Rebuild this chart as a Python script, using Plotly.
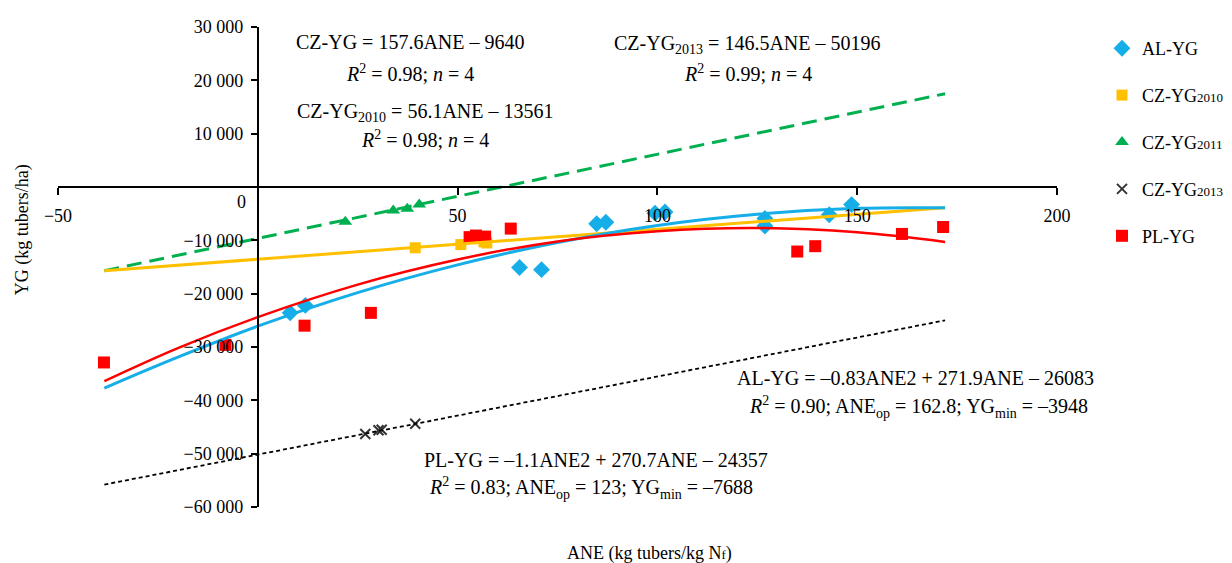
import plotly.graph_objects as go

# ---------------- data ----------------
al_x = [8.1, 11.9, 65.5, 71.0, 84.8, 87.1, 99.4, 101.9, 126.9, 126.9, 143.0, 148.6]
al_y = [-23600, -22200, -15100, -15500, -6900, -6600, -4900, -4700, -5900, -7300, -5200, -3300]

cz2010_x = [39.4, 50.8, 56.6, 57.3]
cz2010_y = [-11400, -10800, -10300, -10500]

cz2011_x = [21.9, 33.9, 37.4, 40.4]
cz2011_y = [-6500, -4400, -4100, -3300]

cz2013_x = [26.9, 30.2, 31.0, 39.4]
cz2013_y = [-46300, -45600, -45500, -44400]

pl_x = [-38.5, -8.1, 11.7, 28.3, 53.0, 54.6, 56.9, 63.3, 135.0, 139.5, 161.2, 171.5]
pl_y = [-32900, -29600, -26000, -23600, -9400, -9100, -9300, -7800, -12100, -11100, -8800, -7500]

# trend lines
lin_x = [-38.4, 172.0]
cz_trend_y = [-15700, 17500]
cz2010_trend_y = [-15700, -3900]
cz2013_trend_y = [-55800, -25000]

curve_x = [-38.4, -20, 0, 25, 50, 75, 100, 125, 150, 172]
al_curve_y = [-37700, -31900, -26100, -19800, -14600, -10400, -7200, -5100, -4000, -3900]
pl_curve_y = [-36400, -30200, -24400, -18300, -13600, -10200, -8300, -7700, -8500, -10300]

x_ticks = [-50, 0, 50, 100, 150, 200]
x_tick_text = ["\u221250", "", "50", "100", "150", "200"]
y_ticks = [-60000, -50000, -40000, -30000, -20000, -10000, 0, 10000, 20000, 30000]
y_tick_text = ["\u221260 000", "\u221250 000", "\u221240 000", "\u221230 000", "\u221220 000",
               "\u221210 000", "", "10 000", "20 000", "30 000"]

# ---------------- styles ----------------
FONT = "Liberation Serif"
C_BLUE = "#16AEE8"
C_YEL = "#FFC000"
C_GRN = "#00B050"
C_BLK = "#333333"
C_RED = "#FF0000"

OFF = 8  # page body margin of the html page
W, H = 1232 - OFF, 563 - OFF
PLOT_L, PLOT_R, PLOT_T, PLOT_B = 57.5, 1057.5, 27.3, 507.3  # target plot box (page pixels)
L = PLOT_L - OFF
R = W - (PLOT_R - OFF)
T = PLOT_T - OFF
B = H - (PLOT_B - OFF)
PW, PH = W - L - R, H - T - B


def P(px, py):
    """page pixel -> paper fraction"""
    return (px - OFF - L) / PW, (H - B - (py - OFF)) / PH


def C(px, py):
    """page pixel -> container fraction"""
    return (px - OFF) / W, 1 - (py - OFF) / H


fig = go.Figure()

sub = "<span style='font-size:13px'>{}</span>"
fig.add_trace(go.Scatter(x=al_x, y=al_y, mode="markers", name="AL-YG", legendgroup="a",
                         marker=dict(symbol="diamond", size=13, color=C_BLUE)))
fig.add_trace(go.Scatter(x=cz2010_x, y=cz2010_y, mode="markers", name="CZ-YG" + sub.format("2010"),
                         legendgroup="b", marker=dict(symbol="square", size=11, color=C_YEL)))
fig.add_trace(go.Scatter(x=cz2011_x, y=cz2011_y, mode="markers", name="CZ-YG" + sub.format("2011"),
                         legendgroup="c", marker=dict(symbol="triangle-up", size=12, color=C_GRN)))
fig.add_trace(go.Scatter(x=cz2013_x, y=cz2013_y, mode="markers", name="CZ-YG" + sub.format("2013"),
                         legendgroup="d",
                         marker=dict(symbol="x-thin", size=10, color=C_BLK, line=dict(width=2, color=C_BLK))))
fig.add_trace(go.Scatter(x=pl_x, y=pl_y, mode="markers", name="PL-YG", legendgroup="e",
                         marker=dict(symbol="square", size=12, color=C_RED)))

# trend lines on top
fig.add_trace(go.Scatter(x=lin_x, y=cz_trend_y, mode="lines", showlegend=False, hoverinfo="skip",
                         line=dict(color=C_GRN, width=3, dash="15px,8px")))
fig.add_trace(go.Scatter(x=lin_x, y=cz2010_trend_y, mode="lines", showlegend=False, hoverinfo="skip",
                         line=dict(color=C_YEL, width=3)))
fig.add_trace(go.Scatter(x=lin_x, y=cz2013_trend_y, mode="lines", showlegend=False, hoverinfo="skip",
                         line=dict(color="#000000", width=1.8, dash="4px,3px")))
fig.add_trace(go.Scatter(x=curve_x, y=al_curve_y, mode="lines", showlegend=False, hoverinfo="skip",
                         line=dict(color=C_BLUE, width=3, shape="spline")))
fig.add_trace(go.Scatter(x=curve_x, y=pl_curve_y, mode="lines", showlegend=False, hoverinfo="skip",
                         line=dict(color=C_RED, width=2.5, shape="spline")))

# ---------------- annotations ----------------
ann_specs = [
    ("CZ-YG = 157.6ANE \u2013 9640", 410, 42),
    ("<i>R</i><sup>2</sup> = 0.98; <i>n</i> = 4", 410, 73),
    ("CZ-YG<sub>2010</sub> = 56.1ANE \u2013 13561", 425, 113),
    ("<i>R</i><sup>2</sup> = 0.98; <i>n</i> = 4", 425, 139),
    ("CZ-YG<sub>2013</sub> = 146.5ANE \u2013 50196", 748, 45),
    ("<i>R</i><sup>2</sup> = 0.99; <i>n</i> = 4", 748, 73),
    ("AL-YG = \u20130.83ANE2 + 271.9ANE \u2013 26083", 916, 378),
    ("<i>R</i><sup>2</sup> = 0.90; ANE<sub>op</sub> = 162.8; YG<sub>min</sub> = \u20133948", 919, 407),
    ("PL-YG = \u20131.1ANE2 + 270.7ANE \u2013 24357", 596, 460),
    ("<i>R</i><sup>2</sup> = 0.83; ANE<sub>op</sub> = 123; YG<sub>min</sub> = \u20137688", 591, 488),
]
annotations = []
for text, px, py in ann_specs:
    xp, yp = P(px, py)
    annotations.append(dict(text=text, x=xp, y=yp, xref="paper", yref="paper",
                            xanchor="center", yanchor="middle", showarrow=False,
                            font=dict(family=FONT, size=20, color="#000000")))

# zero label and axis titles
xp, yp = P(241, 202)
annotations.append(dict(text="0", x=xp, y=yp, xref="paper", yref="paper", showarrow=False,
                        xanchor="center", yanchor="middle", font=dict(family=FONT, size=18, color="#000")))
xp, yp = P(650, 554)
annotations.append(dict(text="ANE (kg tubers/kg N<span style='font-size:13px'>f</span>)", x=xp, y=yp,
                        xref="paper", yref="paper", showarrow=False, xanchor="center", yanchor="middle",
                        font=dict(family=FONT, size=18, color="#000")))
xp, yp = P(22, 230)
annotations.append(dict(text="YG (kg tubers/ha)", x=xp, y=yp, xref="paper", yref="paper",
                        showarrow=False, textangle=-90, xanchor="center", yanchor="middle",
                        font=dict(family=FONT, size=18, color="#000")))

lx, ly = C(1102, 30)
fig.update_layout(
    width=W, height=H,
    margin=dict(l=L, r=R, t=T, b=B, pad=0, autoexpand=False),
    paper_bgcolor="white", plot_bgcolor="white",
    font=dict(family=FONT, size=18, color="#000"),
    showlegend=True,
    legend=dict(x=lx, y=ly, xref="container", yref="container", xanchor="left", yanchor="top",
                font=dict(family=FONT, size=18, color="#000"), tracegroupgap=20.5,
                bgcolor="rgba(0,0,0,0)", itemwidth=30),
    annotations=annotations,
    xaxis=dict(range=[-50, 200], anchor="free", position=60000 / 90000,
               showgrid=False, zeroline=False, showline=True, linecolor="#000", linewidth=2,
               ticks="outside", ticklen=7, tickwidth=2, tickcolor="#000",
               tickvals=x_ticks, ticktext=x_tick_text, ticklabelstandoff=5,
               tickfont=dict(family=FONT, size=18, color="#000")),
    yaxis=dict(range=[-60000, 30000], anchor="free", position=0.2,
               showgrid=False, zeroline=False, showline=True, linecolor="#000", linewidth=2,
               ticks="outside", ticklen=6, tickwidth=2, tickcolor="#000",
               tickvals=y_ticks, ticktext=y_tick_text, ticklabelstandoff=4,
               tickfont=dict(family=FONT, size=18, color="#000")),
)

fig.write_html("out.html")
